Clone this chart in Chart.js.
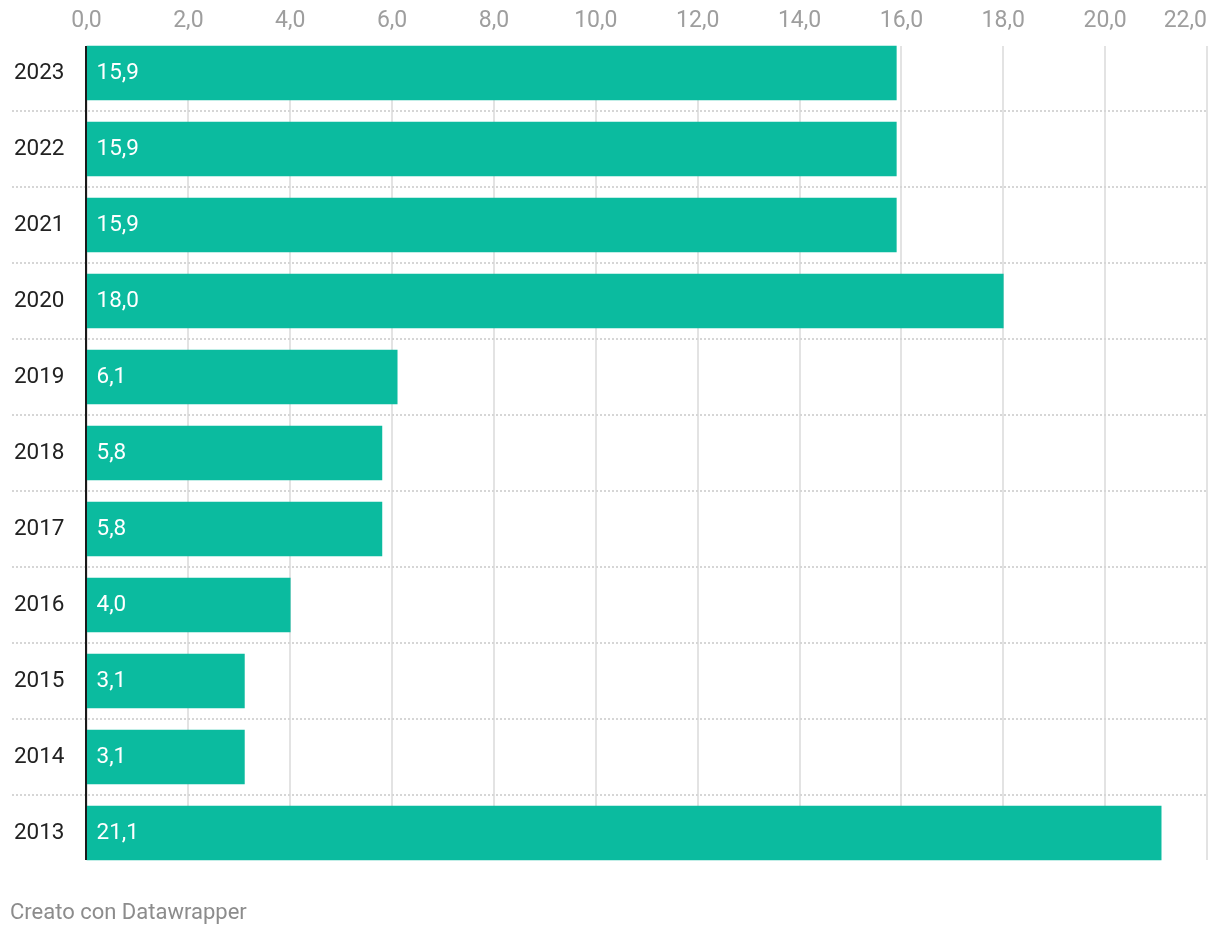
<!DOCTYPE html>
<html>
<head>
<meta charset="utf-8">
<script src="https://cdn.jsdelivr.net/npm/chart.js@4/dist/chart.umd.min.js"></script>
<style>
  html, body { margin: 0; padding: 0; background: #fff; }
  #wrap { position: relative; width: 1220px; height: 936px; }
  #footer { position: absolute; left: 10px; top: 898px; font-family: Roboto, sans-serif; font-size: 22px; color: #8c8c8c; line-height: 28px; }
</style>
</head>
<body>
<div id="wrap">
  <canvas id="c" width="1220" height="936"></canvas>
  <div id="footer">Creato con Datawrapper</div>
</div>
<script>
const years = ['2023','2022','2021','2020','2019','2018','2017','2016','2015','2014','2013'];
const values = [15.9, 15.9, 15.9, 18.0, 6.1, 5.8, 5.8, 4.0, 3.1, 3.1, 21.1];
const xTickValues = [0, 2, 4, 6, 8, 10, 12, 14, 16, 18, 20, 22];

const fmt = v => v.toFixed(1).replace('.', ',');
const BAR = 54;

const decor = {
  id: 'decor',
  beforeDatasetsDraw(chart) {
    const ctx = chart.ctx, x = chart.scales.x, y = chart.scales.y;
    const top = y.getPixelForValue(0) - BAR / 2;
    const bottom = y.getPixelForValue(years.length - 1) + BAR / 2;
    ctx.save();
    // vertical gridlines
    ctx.strokeStyle = '#e3e3e3';
    ctx.lineWidth = 2;
    xTickValues.forEach(v => {
      const px = Math.round(x.getPixelForValue(v));
      ctx.beginPath();
      ctx.moveTo(px, top);
      ctx.lineTo(px, bottom);
      ctx.stroke();
    });
    // dotted row separators
    ctx.strokeStyle = '#d6d6d6';
    ctx.setLineDash([2, 2]);
    for (let i = 0; i < years.length - 1; i++) {
      const py = Math.round((y.getPixelForValue(i) + y.getPixelForValue(i + 1)) / 2);
      ctx.beginPath();
      ctx.moveTo(12, py);
      ctx.lineTo(x.getPixelForValue(22), py);
      ctx.stroke();
    }
    ctx.setLineDash([]);
    // x tick labels on top
    ctx.fillStyle = '#9e9e9e';
    ctx.font = '23px Roboto';
    ctx.textBaseline = 'middle';
    xTickValues.forEach((v, i) => {
      const px = x.getPixelForValue(v);
      ctx.textAlign = (i === xTickValues.length - 1) ? 'right' : 'center';
      ctx.fillText(fmt(v), px, 21);
    });
    ctx.restore();
  },
  afterDatasetsDraw(chart) {
    const ctx = chart.ctx, x = chart.scales.x, y = chart.scales.y;
    const top = y.getPixelForValue(0) - BAR / 2;
    const bottom = y.getPixelForValue(years.length - 1) + BAR / 2;
    const x0 = x.getPixelForValue(0);
    ctx.save();
    // value labels
    ctx.fillStyle = '#ffffff';
    ctx.font = '22.5px Roboto';
    ctx.textAlign = 'left';
    ctx.textBaseline = 'middle';
    values.forEach((v, i) => {
      ctx.fillText(fmt(v), x0 + 10, y.getPixelForValue(i) + 0.5);
    });
    // axis line
    ctx.strokeStyle = '#1a1a1a';
    ctx.lineWidth = 2;
    ctx.beginPath();
    ctx.moveTo(x0 - 0.5, top);
    ctx.lineTo(x0 - 0.5, bottom);
    ctx.stroke();
    ctx.restore();
  }
};

new Chart(document.getElementById('c'), {
  type: 'bar',
  data: {
    labels: years,
    datasets: [{
      data: values,
      backgroundColor: '#0bbb9f',
      borderWidth: 0,
      barThickness: BAR
    }]
  },
  options: {
    indexAxis: 'y',
    responsive: false,
    animation: false,
    layout: { padding: { top: 35, bottom: 65, left: 12, right: 13 } },
    plugins: { legend: { display: false }, tooltip: { enabled: false } },
    scales: {
      x: {
        position: 'top',
        min: 0, max: 22,
        ticks: { display: false, stepSize: 2 },
        grid: { display: false, drawTicks: false },
        border: { display: false },
        afterFit(scale) { scale.height = 0; scale.paddingLeft = 0; scale.paddingRight = 0; }
      },
      y: {
        ticks: { color: '#222', font: { family: 'Roboto', size: 22.5 }, padding: 22 },
        grid: { display: false, drawTicks: false },
        border: { display: false },
        afterFit(scale) { scale.width = 74.5; scale.paddingTop = 0; scale.paddingBottom = 0; }
      }
    }
  },
  plugins: [decor]
});
</script>
</body>
</html>
